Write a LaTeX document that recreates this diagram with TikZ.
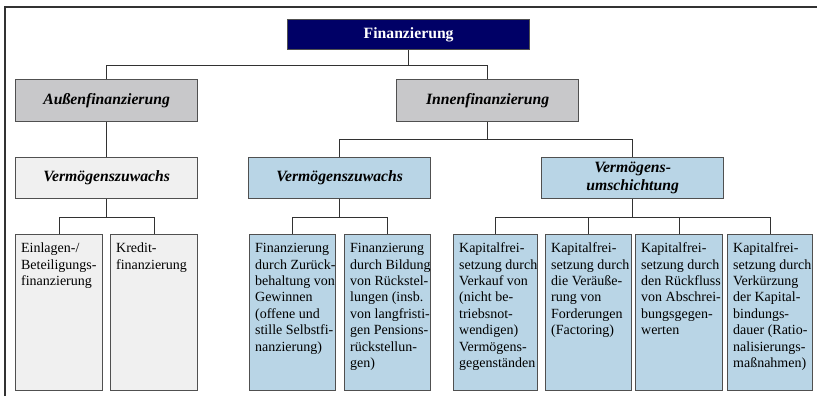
\documentclass[tikz,border=0pt]{standalone}
\usepackage{fontspec}
\setmainfont{Liberation Serif}
\definecolor{navy}{RGB}{0,0,102}
\definecolor{hgray}{RGB}{200,200,202}
\definecolor{lgray}{RGB}{240,240,240}
\definecolor{lblue}{RGB}{185,213,230}
\definecolor{boxline}{RGB}{80,80,80}
\definecolor{conn}{RGB}{50,50,50}
\newcommand\leaftext[2]{\hspace*{5.5bp}\parbox[c][156bp][t]{\dimexpr#1bp-5.5bp\relax}{\fontsize{14bp}{16.4bp}\selectfont\vspace*{6.5bp}\raggedright\strut #2}}
\begin{document}
\begin{tikzpicture}[x=1bp,y=-1bp,
  box/.style={draw=boxline,line width=1.3bp,inner sep=0pt,anchor=north west},
  hdr/.style={box,minimum width=182bp,font=\fontsize{15.7bp}{18bp}\selectfont\bfseries\itshape,align=center},
  leafbox/.style={box,minimum height=156bp},
  link/.style={draw=conn,line width=1.1bp}]
\useasboundingbox (0,0) rectangle (817,396);
% frame
\draw[conn,line width=1.3bp] (5,396) -- (5,7) -- (817,7);
% level 0
\node[box,fill=navy,text=white,minimum width=242bp,minimum height=30bp,
  font=\fontsize{15.7bp}{18bp}\selectfont\bfseries] (fin) at (287,19) {Finanzierung};
% level 1
\node[hdr,fill=hgray,minimum height=42bp] (aus) at (15,79) {Außenfinanzierung};
\node[hdr,fill=hgray,minimum height=42bp] (inn) at (396,79) {Innenfinanzierung};
% level 2
\node[hdr,fill=lgray,minimum height=41bp] (vza) at (15,157) {Vermögenszuwachs};
\node[hdr,fill=lblue,minimum height=41bp] (vzi) at (248,157) {Vermögenszuwachs};
\node[hdr,fill=lblue,minimum height=41bp] (vu) at (541,157) {Vermögens-\\umschichtung};
% leaves
\node[leafbox,fill=lgray] (l1) at (15,234) {\leaftext{87}{Einlagen-/\\Beteiligungs-\\finanzierung}};
\node[leafbox,fill=lgray] (l2) at (110,234) {\leaftext{87}{Kredit-\\finanzierung}};
\node[leafbox,fill=lblue] (m1) at (249,234) {\leaftext{86}{Finanzierung\\durch Zurück-\\behaltung von\\Gewinnen\\(offene und\\stille Selbstfi-\\nanzierung)}};
\node[leafbox,fill=lblue] (m2) at (344,234) {\leaftext{86}{Finanzierung\\durch Bildung\\von Rückstel-\\lungen (insb.\\von langfristi-\\gen Pensions-\\rückstellun-\\gen)}};
\node[leafbox,fill=lblue] (r1) at (453,234) {\leaftext{84}{Kapitalfrei-\\setzung durch\\Verkauf von\\(nicht be-\\triebsnot-\\wendigen)\\Vermögens-\\gegenständen}};
\node[leafbox,fill=lblue] (r2) at (545,234) {\leaftext{86}{Kapitalfrei-\\setzung durch\\die Veräuße-\\rung von\\Forderungen\\(Factoring)}};
\node[leafbox,fill=lblue] (r3) at (635,234) {\leaftext{87}{Kapitalfrei-\\setzung durch\\den Rückfluss\\von Abschrei-\\bungsgegen-\\werten}};
\node[leafbox,fill=lblue] (r4) at (727,234) {\leaftext{85}{Kapitalfrei-\\setzung durch\\Verkürzung\\der Kapital-\\bindungs-\\dauer (Ratio-\\nalisierungs-\\maßnahmen)}};
% connectors
\draw[link] (fin.south) -- ++(0,15) coordinate (j0);
\draw[link] (j0) -| (aus.north);
\draw[link] (j0) -| (inn.north);
\draw[link] (aus.south) -- (vza.north);
\draw[link] (inn.south) -- ++(0,17) coordinate (j1);
\draw[link] (j1) -| (vzi.north);
\draw[link] (j1) -| (vu.north);
\draw[link] (vza.south) -- ++(0,18) coordinate (j2);
\draw[link] (j2) -| (l1.north);
\draw[link] (j2) -| (l2.north);
\draw[link] (vzi.south) -- ++(0,18) coordinate (j3);
\draw[link] (j3) -| (m1.north);
\draw[link] (j3) -| (m2.north);
\draw[link] (vu.south) -- ++(0,18) coordinate (j4);
\draw[link] (j4) -| (r1.north);
\draw[link] (j4) -| (r2.north);
\draw[link] (j4) -| (r3.north);
\draw[link] (j4) -| (r4.north);
\end{tikzpicture}
\end{document}
